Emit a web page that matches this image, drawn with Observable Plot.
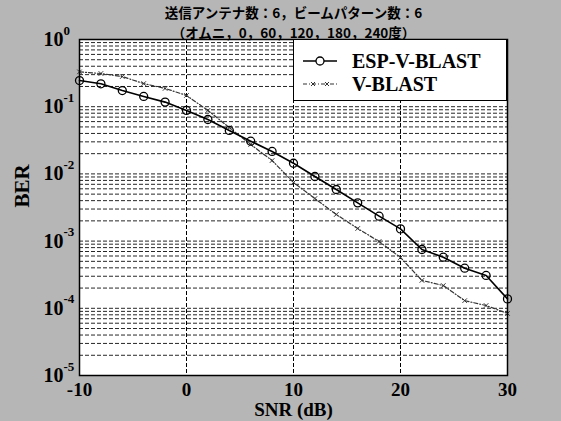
<!DOCTYPE html>
<html><head><meta charset="utf-8">
<script src="https://cdn.jsdelivr.net/npm/d3@7"></script>
<script src="https://cdn.jsdelivr.net/npm/@observablehq/plot@0.6"></script>
<style>
html,body{margin:0;padding:0;background:#b6b6b6;}
#wrap{position:relative;width:561px;height:421px;overflow:hidden;background:#b6b6b6;}
#legend{position:absolute;left:293px;top:39px;width:212px;height:60px;background:#fff;border:1.5px solid #000;font-family:"Liberation Serif",serif;font-weight:bold;font-size:20px;color:#000;}
#legend .row{position:absolute;left:8px;height:22px;display:flex;align-items:center;}
#legend svg{margin-right:14px;}
</style>
</head><body>
<div id="wrap"></div>
<script>
const titleLines = ["送信アンテナ数：6，ビームパターン数：6", "（オムニ，0，60，120，180，240度）"];
const xLabel = "SNR (dB)";
const yLabel = "BER";
const seriesNames = ["ESP-V-BLAST", "V-BLAST"];
const snr = [-10,-8,-6,-4,-2,0,2,4,6,8,10,12,14,16,18,20,22,24,26,28,30];
const espBer = [0.245,0.219,0.174,0.142,0.117,0.088,0.0645,0.0443,0.0307,0.0216,0.0144,0.00915,0.00586,0.00371,0.00235,0.00152,0.00075,0.000576,0.000395,0.000308,0.000138];
const vblastBer = [0.33,0.312,0.281,0.221,0.187,0.147,0.088,0.049,0.0274,0.0158,0.00745,0.0043,0.00249,0.00154,0.000986,0.00057,0.00026,0.000218,0.00013,0.00011,0.0000838];
const xTicks = [-10,0,10,20,30];
const xGridLines = [0,10,20];
const yExponents = [0,-1,-2,-3,-4,-5];

const minorGrid = [];
for (const e of yExponents) { if (e === 0) continue; for (let m = 1; m <= 9; m++) minorGrid.push(m * 10 ** e); }

const esp = snr.map((s,i) => ({snr:s, ber:espBer[i]}));
const vb = snr.map((s,i) => ({snr:s, ber:vblastBer[i]}));

const serif = "Liberation Serif, Times New Roman, serif";
const cjk = "Noto Sans CJK JP, sans-serif";
const chart = Plot.plot({
  width:561, height:421,
  marginLeft:79, marginRight:54, marginTop:39, marginBottom:46,
  style:{background:"transparent", fontFamily:serif, overflow:"visible"},
  x:{domain:[-10,30], axis:null},
  y:{type:"log", domain:[1e-5,1], axis:null},
  marks:[
    Plot.frame({fill:"white", stroke:"none"}),
    Plot.ruleY(minorGrid, {y:d=>d, stroke:"#000", strokeDasharray:"4,2", strokeWidth:1, strokeOpacity:0.85}),
    Plot.ruleX(xGridLines, {x:d=>d, stroke:"#000", strokeDasharray:"4,2", strokeWidth:1}),
    Plot.line(vb, {x:"snr", y:"ber", stroke:"#333", strokeWidth:1.2, strokeDasharray:"4,2,1,2"}),
    Plot.dot(vb, {x:"snr", y:"ber", symbol:"times", r:2.2, stroke:"#333", strokeWidth:1}),
    Plot.line(esp, {x:"snr", y:"ber", stroke:"#000", strokeWidth:1.6}),
    Plot.dot(esp, {x:"snr", y:"ber", r:4, stroke:"#000", fill:"none", strokeWidth:1.3}),
    Plot.frame({stroke:"#000", strokeWidth:1.5}),
    Plot.text(xTicks, {x:d=>d, frameAnchor:"bottom", lineAnchor:"middle", dy:14, text:d=>String(d), fontSize:19, fontWeight:"bold", fontFamily:serif, fill:"#000"}),
    Plot.text(yExponents, {y:d=>10**d, frameAnchor:"left", lineAnchor:"middle", dx:-16, textAnchor:"end", text:()=>"10", fontSize:20, fontWeight:"bold", fontFamily:serif, fill:"#000"}),
    Plot.text(yExponents, {y:d=>10**d, frameAnchor:"left", lineAnchor:"middle", dx:-16, dy:-9, textAnchor:"start", text:d=>String(d), fontSize:13, fontWeight:"bold", fontFamily:serif, fill:"#000"}),
    Plot.text([xLabel], {frameAnchor:"bottom", lineAnchor:"middle", dy:34, text:d=>d, fontSize:19, fontWeight:"bold", fontFamily:serif, fill:"#000"}),
    Plot.text([yLabel], {frameAnchor:"left", lineAnchor:"middle", dx:-57, rotate:-90, text:d=>d, fontSize:21, fontWeight:"bold", fontFamily:serif, fill:"#000"}),
    Plot.text([titleLines.join("\n")], {frameAnchor:"top", lineAnchor:"middle", lineHeight:1.46, dy:-17.5, text:d=>d, fontSize:13.5, fontWeight:"bold", fontFamily:cjk, fill:"#000"})
  ]
});
const wrap = document.getElementById("wrap");
wrap.appendChild(chart);

const legend = document.createElement("div");
legend.id = "legend";
const sample = (kind) => kind === 0
  ? '<svg width="36" height="14"><line x1="1" y1="7" x2="35" y2="7" stroke="#000" stroke-width="1.6"/><circle cx="18" cy="7" r="4" fill="#fff" stroke="#000" stroke-width="1.3"/></svg>'
  : '<svg width="36" height="14"><line x1="1" y1="7" x2="35" y2="7" stroke="#333" stroke-width="1.2" stroke-dasharray="4,2,1,2"/><path d="M9,5L13,9M13,5L9,9M23,5L27,9M27,5L23,9" stroke="#333"/></svg>';
legend.innerHTML = seriesNames.map((n,i) => `<div class="row" style="top:${10 + i*23}px">${sample(i)}<span>${n}</span></div>`).join("");
wrap.appendChild(legend);
</script>
</body></html>
